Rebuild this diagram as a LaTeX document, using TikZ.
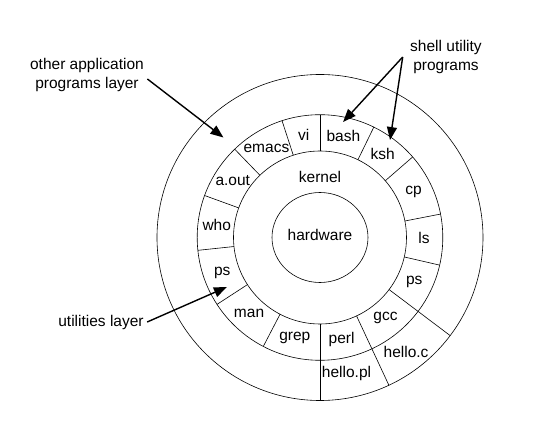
\documentclass[tikz,border=0pt]{standalone}
\usepackage{fontspec}
\setmainfont{Liberation Sans}
\usetikzlibrary{arrows.meta}
\def\spoke(#1:#2:#3){\draw[ring] (#1:#2) -- (#1:#3);}
\tikzset{
	ring/.style={line width=0.6pt},
	pointer/.style={line width=1.4pt, -{Triangle[length=13pt,width=10pt]}},
}

\begin{document}
\begin{tikzpicture}[x=1pt, y=1pt, font=\fontsize{15.5}{19}\selectfont]
			%%%%% START %%%%%
			\useasboundingbox (-320, -185.5) rectangle (235, 237.5);
			
			\draw[ring] (0, 0) circle (163pt);
			\draw[ring] (0, 0) circle (122.8pt);
			\draw[ring] (0, 0) circle (86.5pt);
			\draw[ring] (0, 0) ellipse (48pt and 45pt);
			
			\node (kernel) at (0, 60.5) {kernel};
			\node (hardware) at (0, 2.5) {hardware};
			
			\spoke(90:86.5:122.8)
			\spoke(108:86.5:122.8)
			\spoke(134:86.5:122.8)
			\spoke(160:86.5:122.8)
			\spoke(186:86.5:122.8)
			\spoke(213:86.5:122.8)
			\spoke(242.5:86.5:122.8)
			\spoke(347:86.5:122.8)
			\spoke(11:86.5:122.8)
			\spoke(41:86.5:122.8)
			\spoke(64:86.5:122.8)
			
			\spoke(270:86.5:163)
			\spoke(295:86.5:163)
			\spoke(323:86.5:163)
			
			\node (vi) at (99:104) {vi};
			\node (bash) at (77:104) {bash};
			\node (ksh) at (53:104) {ksh};
			\node (cp) at (26:104) {cp};
			\node (ls) at (0:104) {ls};
			\node (psright) at (335:104) {ps};
			\node (gcc) at (309:104) {gcc};
			\node (perl) at (282:104) {perl};
			\node (grep) at (256:104) {grep};
			\node (man) at (227:104) {man};
			\node (psleft) at (200:104) {ps};
			\node (who) at (173:104) {who};
			\node (aout) at (147:104) {a.out};
			\node (emacs) at (121:104) {emacs};
			
			\node (hellopl) at (281:139) {hello.pl};
			\node (helloc) at (307:143) {hello.c};
			
			\node[align=center] (apps) at (-233, 162.5) {other application\\programs layer};
			\node[align=center] (shell) at (126, 180.5) {shell utility\\programs};
			\node (utils) at (-219, -84.5) {utilities layer};
			
			\coordinate (appstip) at (134:139);
			\coordinate (bashtip) at (78.7:117.8);
			\coordinate (kshtip) at (54.3:120);
			\coordinate (utilstip) at (208:105.4);
			
			\draw[pointer] ([yshift=-4pt]apps.east) -- (appstip);
			\draw[pointer] ([xshift=-4pt]shell.west) -- (bashtip);
			\draw[pointer] ([xshift=-4pt]shell.west) -- (kshtip);
			\draw[pointer] (utils.east) -- (utilstip);
			
			%%%%% END %%%%%
\end{tikzpicture}
\end{document}
